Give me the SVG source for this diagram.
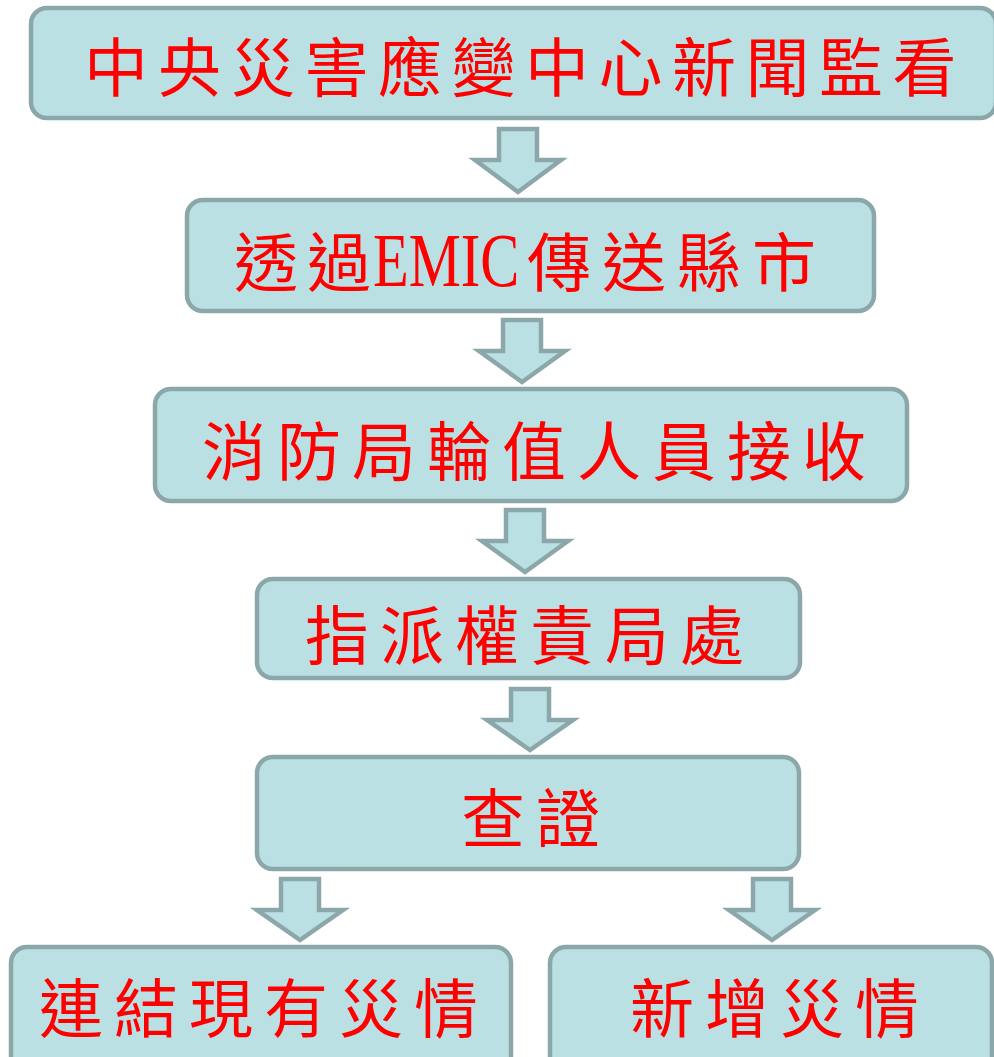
<svg xmlns="http://www.w3.org/2000/svg" width="994" height="1057" viewBox="0 0 994 1057">
<style>
.box{fill:#bbe0e3;stroke:#8ba7aa;stroke-width:4.5}
.arr{fill:#bbe0e3;stroke:#8ba7aa;stroke-width:4.5;stroke-linejoin:miter}
.t{font-family:"Noto Sans CJK TC","Noto Sans CJK SC",sans-serif;font-size:64px;fill:#ff0000;letter-spacing:11px}
.lat{font-family:"Liberation Serif",serif;font-size:76px;letter-spacing:0}
.ns{letter-spacing:0}
</style>
<rect width="994" height="1057" fill="#ffffff"/>
<g id="connectors">
<path class="arr" d="M499,129 H537 V160 H561 L518,192 L475,160 H499 Z"/>
<path class="arr" d="M503,320 H541 V351 H565 L522,382 L479,351 H503 Z"/>
<path class="arr" d="M506,510 H544 V541 H568 L525,572 L482,541 H506 Z"/>
<path class="arr" d="M511,689 H549 V720 H573 L530,750 L487,720 H511 Z"/>
<path class="arr" d="M281,879 H319 V910 H343 L300,940 L257,910 H281 Z"/>
<path class="arr" d="M753,879 H791 V910 H815 L772,940 L729,910 H753 Z"/>
</g>
<g id="node1">
<rect class="box" x="31" y="8" width="965" height="110" rx="16"/>
<text class="t" x="84" y="91" style="letter-spacing:9.5px">中央災害應變中心新聞監看</text>
</g>
<g id="node2">
<rect class="box" x="187" y="200" width="687" height="111" rx="16"/>
<text class="t" y="286"><tspan class="ns" x="234">透</tspan><tspan class="ns" x="307">過</tspan></text>
<text class="t lat" transform="translate(373,286) scale(0.77,1)">EMIC</text>
<text class="t" y="286"><tspan x="527">傳送縣</tspan><tspan class="ns" x="752">市</tspan></text>
</g>
<g id="node3">
<rect class="box" x="155" y="389" width="752" height="112" rx="16"/>
<text class="t" x="202" y="475">消防局輪值人員接收</text>
</g>
<g id="node4">
<rect class="box" x="257" y="579" width="543" height="99" rx="16"/>
<text class="t" x="305" y="659">指派權責局處</text>
</g>
<g id="node5">
<rect class="box" x="257" y="757" width="542" height="112" rx="16"/>
<text class="t" x="461" y="842">查證</text>
</g>
<g id="node6">
<rect class="box" x="11" y="947" width="500" height="130" rx="16"/>
<text class="t" x="39" y="1032">連結現有災情</text>
</g>
<g id="node7">
<rect class="box" x="550" y="947" width="442" height="130" rx="16"/>
<text class="t" x="630" y="1032">新增災情</text>
</g>
</svg>
